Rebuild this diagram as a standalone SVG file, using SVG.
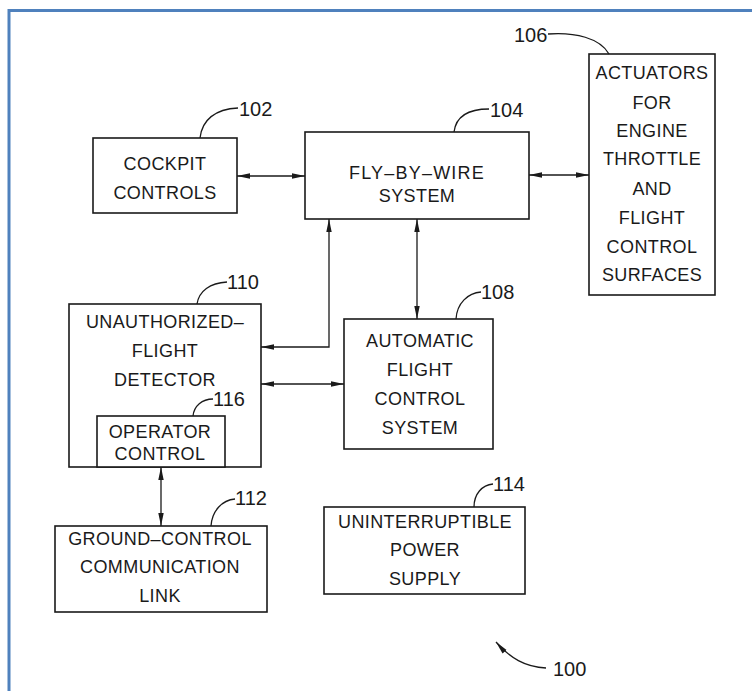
<svg xmlns="http://www.w3.org/2000/svg" width="752" height="691" viewBox="0 0 752 691">
<defs>
<marker id="ah" viewBox="0 0 13 7" refX="13" refY="3.5" markerWidth="13" markerHeight="7" markerUnits="userSpaceOnUse" orient="auto-start-reverse">
<path d="M0,0.8 L13,3.5 L0,6.2 Z" fill="#1a1a1a"/>
</marker>
<style>
.box{fill:#fff;stroke:#1a1a1a;stroke-width:1.6}
.t{font-family:"Liberation Sans",Arial,sans-serif;font-size:18px;fill:#1a1a1a;text-anchor:middle;letter-spacing:0.4px}
.n{font-family:"Liberation Sans",Arial,sans-serif;font-size:20px;fill:#1a1a1a}
.ld{fill:none;stroke:#1a1a1a;stroke-width:1.3}
.c{fill:none;stroke:#1a1a1a;stroke-width:1.3}
</style>
</defs>
<rect width="752" height="691" fill="#fff"/>
<path d="M9,691 V10.5 H752" fill="none" stroke="#4f81bd" stroke-width="3"/>

<g id="connectors">
<line class="c" x1="237" y1="176" x2="305" y2="176" marker-start="url(#ah)" marker-end="url(#ah)"/>
<line class="c" x1="529" y1="175" x2="589" y2="175" marker-start="url(#ah)" marker-end="url(#ah)"/>
<line class="c" x1="417" y1="219" x2="417" y2="319" marker-start="url(#ah)" marker-end="url(#ah)"/>
<polyline class="c" points="329,219 329,347 261,347" marker-start="url(#ah)" marker-end="url(#ah)"/>
<line class="c" x1="261" y1="384" x2="344" y2="384" marker-start="url(#ah)" marker-end="url(#ah)"/>
<line class="c" x1="161" y1="467" x2="161" y2="526" marker-start="url(#ah)" marker-end="url(#ah)"/>
</g>

<g id="n102">
<rect class="box" x="93" y="138" width="144" height="75"/>
<text class="t" x="165" y="170">COCKPIT</text>
<text class="t" x="165" y="199">CONTROLS</text>
<path class="ld" d="M200,138 C202,120 215,109 238,108"/>
<text class="n" x="239" y="116">102</text>
</g>

<g id="n104">
<rect class="box" x="305" y="132" width="224" height="87"/>
<text class="t" x="417" y="179" style="letter-spacing:1.2px">FLY–BY–WIRE</text>
<text class="t" x="417" y="202">SYSTEM</text>
<path class="ld" d="M454,132 C456,116 468,109 489,109"/>
<text class="n" x="490" y="117">104</text>
</g>

<g id="n106">
<rect class="box" x="589" y="54" width="126" height="241"/>
<text class="t" x="652" y="79">ACTUATORS</text>
<text class="t" x="652" y="109">FOR</text>
<text class="t" x="652" y="137">ENGINE</text>
<text class="t" x="652" y="165">THROTTLE</text>
<text class="t" x="652" y="195">AND</text>
<text class="t" x="652" y="224">FLIGHT</text>
<text class="t" x="652" y="253">CONTROL</text>
<text class="t" x="652" y="281">SURFACES</text>
<path class="ld" d="M548,34 C575,32 600,38 609,54"/>
<text class="n" x="514" y="42">106</text>
</g>

<g id="n108">
<rect class="box" x="344" y="319" width="149" height="130"/>
<text class="t" x="420" y="347">AUTOMATIC</text>
<text class="t" x="420" y="376">FLIGHT</text>
<text class="t" x="420" y="405">CONTROL</text>
<text class="t" x="420" y="434">SYSTEM</text>
<path class="ld" d="M456,319 C457,303 468,293 481,292"/>
<text class="n" x="481" y="299">108</text>
</g>

<g id="n110">
<rect class="box" x="69" y="304" width="192" height="163"/>
<text class="t" x="165" y="328">UNAUTHORIZED–</text>
<text class="t" x="165" y="357">FLIGHT</text>
<text class="t" x="165" y="386">DETECTOR</text>
<path class="ld" d="M197,304 C199,291 210,283 227,282"/>
<text class="n" x="227" y="289">110</text>
</g>

<g id="n116">
<rect class="box" x="97" y="416" width="128" height="51"/>
<text class="t" x="160" y="438">OPERATOR</text>
<text class="t" x="160" y="460">CONTROL</text>
<path class="ld" d="M193,416 C194,406 202,399 213,399"/>
<text class="n" x="213" y="406">116</text>
</g>

<g id="n112">
<rect class="box" x="55" y="526" width="212" height="86"/>
<text class="t" x="160" y="545">GROUND–CONTROL</text>
<text class="t" x="160" y="573">COMMUNICATION</text>
<text class="t" x="160" y="602">LINK</text>
<path class="ld" d="M211,526 C212,511 222,500 235,499"/>
<text class="n" x="235" y="505">112</text>
</g>

<g id="n114">
<rect class="box" x="324" y="507" width="201" height="87"/>
<text class="t" x="425" y="528">UNINTERRUPTIBLE</text>
<text class="t" x="425" y="556">POWER</text>
<text class="t" x="425" y="585">SUPPLY</text>
<path class="ld" d="M474,507 C474,494 482,485 493,484"/>
<text class="n" x="493" y="491">114</text>
</g>

<g id="n100">
<path class="ld" d="M546,668 C525,667 510,658 496,642" marker-end="url(#ah)"/>
<text class="n" x="553" y="676">100</text>
</g>
</svg>
